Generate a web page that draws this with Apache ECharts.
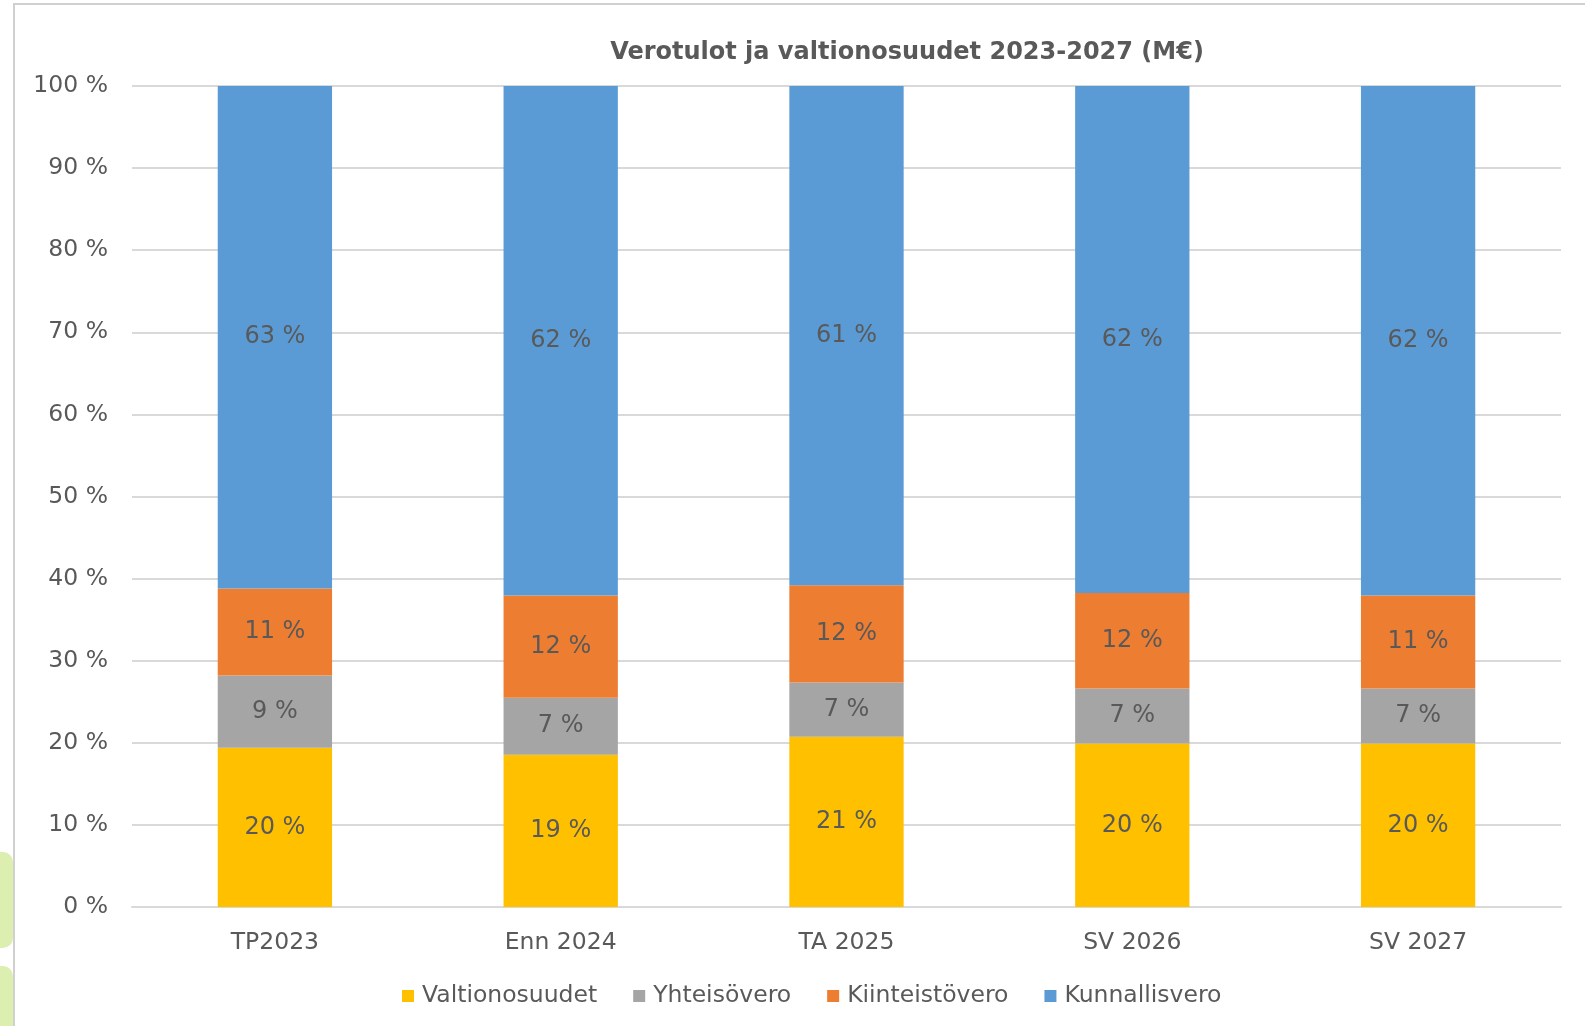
<!DOCTYPE html>
<html>
<head>
<meta charset="utf-8">
<script src="https://cdn.jsdelivr.net/npm/echarts@6/dist/echarts.min.js"></script>
<style>
html, body { margin: 0; padding: 0; background: #fff; }
#chart { width: 1585px; height: 1026px; }
</style>
</head>
<body>
<div id="chart"></div>
<script>
var categories = ['TP2023', 'Enn 2024', 'TA 2025', 'SV 2026', 'SV 2027'];

// segment shares (%)
var valtionosuudet = [19.4, 18.55, 20.75, 19.9, 19.9];
var yhteisovero = [8.8, 6.95, 6.6, 6.7, 6.7];
var kiinteistovero = [10.6, 12.45, 11.85, 11.65, 11.35];
var kunnallisvero = [61.2, 62.05, 60.8, 61.75, 62.05];

// labels as printed on the bars
var lblValtio = ['20 %', '19 %', '21 %', '20 %', '20 %'];
var lblYhteis = ['9 %', '7 %', '7 %', '7 %', '7 %'];
var lblKiint = ['11 %', '12 %', '12 %', '12 %', '11 %'];
var lblKunn = ['63 %', '62 %', '61 %', '62 %', '62 %'];

var yTicks = [0, 10, 20, 30, 40, 50, 60, 70, 80, 90, 100];

var txt = '#595959';
var font = 'DejaVu Sans';

function seg(name, data, labels, color) {
    return {
        name: name,
        type: 'bar',
        stack: 'total',
        barWidth: '40%',
        data: data,
        itemStyle: { color: color },
        label: {
            show: true,
            position: 'inside',
            color: txt,
            fontFamily: font,
            fontSize: 24,
            formatter: function (p) { return labels[p.dataIndex]; }
        }
    };
}

var chart = echarts.init(document.getElementById('chart'));
var option = {
    animation: false,
    backgroundColor: '#fff',
    graphic: [
        { type: 'rect', shape: { x: 0, y: 852, width: 13, height: 96, r: [0, 10, 10, 0] }, style: { fill: '#DCEFB0' } },
        { type: 'rect', shape: { x: 0, y: 966, width: 13, height: 60, r: [0, 10, 0, 0] }, style: { fill: '#DCEFB0' } },
        { type: 'rect', shape: { x: 14, y: 4, width: 1580, height: 1030 }, style: { fill: 'none', stroke: '#D0D0D0', lineWidth: 2 } }
    ],
    title: {
        text: 'Verotulot ja valtionosuudet 2023-2027 (M€)',
        left: 902,
        top: 36,
        textAlign: 'center',
        textStyle: { color: txt, fontFamily: font, fontWeight: 'bold', fontSize: 24 }
    },
    legend: {
        bottom: 13,
        left: 397,
        itemWidth: 12,
        itemHeight: 12,
        itemGap: 36,
        icon: 'rect',
        textStyle: { color: txt, fontFamily: font, fontSize: 23.5, padding: [0, 0, 0, 3] },
        data: ['Valtionosuudet', 'Yhteisövero', 'Kiinteistövero', 'Kunnallisvero']
    },
    grid: { left: 132, right: 24, top: 86, bottom: 119 },
    xAxis: {
        type: 'category',
        data: categories,
        axisLine: { lineStyle: { color: '#D9D9D9', width: 2 } },
        axisTick: { show: false },
        axisLabel: { color: txt, fontFamily: font, fontSize: 23.5, margin: 24 }
    },
    yAxis: {
        type: 'value',
        min: yTicks[0],
        max: yTicks[yTicks.length - 1],
        interval: 10,
        axisLine: { show: false },
        axisTick: { show: false },
        splitLine: { lineStyle: { color: '#D9D9D9', width: 2 } },
        axisLabel: { color: txt, fontFamily: font, fontSize: 23.5, margin: 24, formatter: '{value} %' }
    },
    series: [
        seg('Valtionosuudet', valtionosuudet, lblValtio, '#FFC000'),
        seg('Yhteisövero', yhteisovero, lblYhteis, '#A5A5A5'),
        seg('Kiinteistövero', kiinteistovero, lblKiint, '#ED7D31'),
        seg('Kunnallisvero', kunnallisvero, lblKunn, '#5B9BD5')
    ]
};
chart.setOption(option);
</script>
</body>
</html>
